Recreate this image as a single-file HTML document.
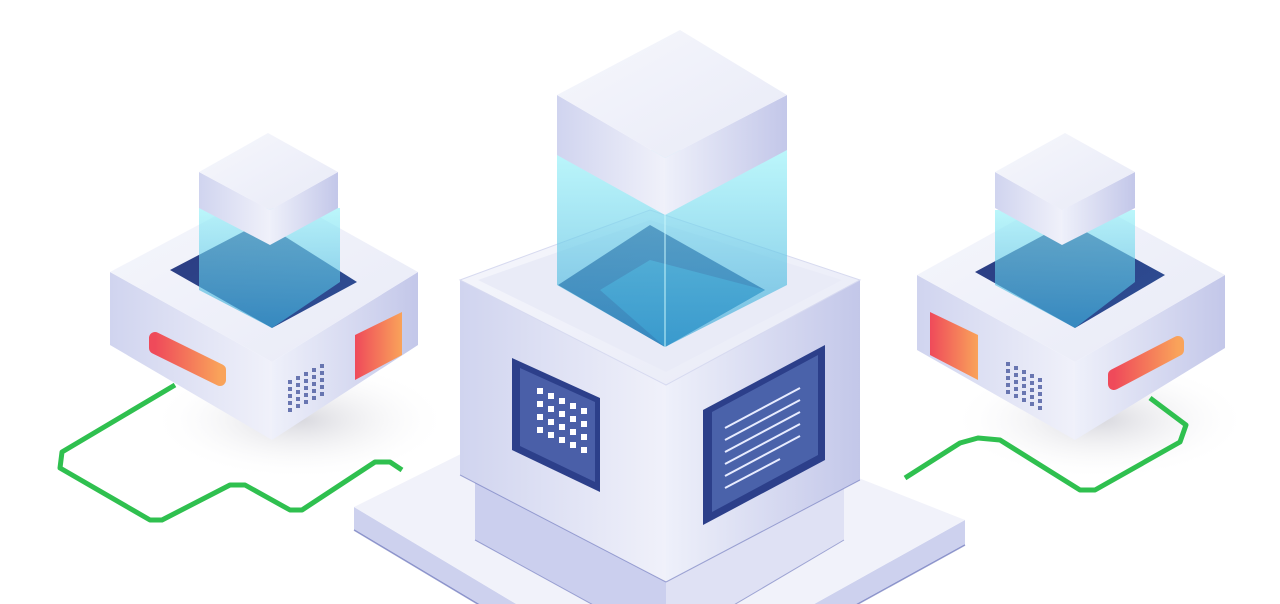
<!DOCTYPE html>
<html><head><meta charset="utf-8"><style>html,body{margin:0;padding:0;background:#fff;width:1280px;height:604px;overflow:hidden}</style></head>
<body>
<svg width="1280" height="604" viewBox="0 0 1280 604" xmlns="http://www.w3.org/2000/svg">
<defs>
<linearGradient id="top" x1="0" y1="0" x2="1" y2="1"><stop offset="0" stop-color="#f6f7fc"/><stop offset="1" stop-color="#e8eaf7"/></linearGradient>
<linearGradient id="lf" x1="0" y1="0" x2="1" y2="0"><stop offset="0" stop-color="#d0d4ef"/><stop offset="1" stop-color="#f0f1fa"/></linearGradient>
<linearGradient id="rf" x1="0" y1="0" x2="1" y2="0"><stop offset="0" stop-color="#eef0fa"/><stop offset="1" stop-color="#c3c7e9"/></linearGradient>
<linearGradient id="hole" x1="0" y1="0" x2="1" y2="1"><stop offset="0" stop-color="#2c3a80"/><stop offset="1" stop-color="#2d4f95"/></linearGradient>
<linearGradient id="glass" x1="0" y1="0" x2="0" y2="1"><stop offset="0" stop-color="#8ef0f8" stop-opacity=".8"/><stop offset="1" stop-color="#3aa6d6" stop-opacity=".9"/></linearGradient>
<linearGradient id="red" x1="0" y1="0" x2="1" y2="0"><stop offset="0" stop-color="#ef4a5a"/><stop offset="1" stop-color="#f9a35a"/></linearGradient>
<radialGradient id="sh"><stop offset="0" stop-color="#d8d8de"/><stop offset="1" stop-color="#fff" stop-opacity="0"/></radialGradient>
</defs>

<ellipse cx="300" cy="420" rx="150" ry="60" fill="url(#sh)"/>
<ellipse cx="1100" cy="420" rx="150" ry="60" fill="url(#sh)"/>

<polyline points="175,385 62,452 60,468 150,520 162,520 230,485 245,485 290,510 302,510 375,462 390,462 402,470" fill="none" stroke="#2fc04f" stroke-width="5" stroke-linejoin="round"/>
<polyline points="905,478 960,443 978,438 1000,440 1080,490 1095,490 1180,442 1186,425 1150,398" fill="none" stroke="#2fc04f" stroke-width="5" stroke-linejoin="round"/>

<!-- base plate -->
<polygon points="354,507 354,530 660,713 965,545 965,520 660,690" fill="#cdd1ee"/>
<line x1="354" y1="530" x2="660" y2="713" stroke="#5560b0" stroke-width="1.5" opacity=".6"/>
<line x1="660" y1="713" x2="965" y2="545" stroke="#5560b0" stroke-width="1.5" opacity=".6"/>
<polygon points="354,507 610,380 965,520 660,690" fill="#f1f2fa"/>

<!-- lower body -->
<polygon points="475,470 666,575 666,645 475,540" fill="#cbcfee"/>
<polygon points="666,575 844,470 844,540 666,645" fill="#dfe1f4"/>
<line x1="475" y1="540" x2="666" y2="645" stroke="#5560b0" stroke-width="1" opacity=".5"/>
<line x1="666" y1="645" x2="844" y2="540" stroke="#5560b0" stroke-width="1" opacity=".5"/>

<!-- central cube -->
<polygon points="460,280 666,385 666,582 460,475" fill="url(#lf)"/>
<polygon points="666,385 860,280 860,480 666,582" fill="url(#rf)"/>
<line x1="460" y1="475" x2="666" y2="582" stroke="#5560b0" stroke-width="1" opacity=".5"/>
<line x1="666" y1="582" x2="860" y2="480" stroke="#5560b0" stroke-width="1" opacity=".5"/>
<polygon points="460,280 650,210 860,280 666,385" fill="url(#top)" stroke="#d7daf0"/>
<polygon points="478,280 650,220 842,280 666,372" fill="#e9ebf7"/>
<polygon points="558,285 650,225 765,290 665,347" fill="url(#hole)"/>
<polygon points="600,290 650,260 765,290 665,347" fill="#3a8cc4" opacity=".8"/>
<polygon points="557,150 787,150 787,285 665,347 557,285" fill="url(#glass)" opacity=".75"/>
<line x1="665" y1="215" x2="665" y2="347" stroke="#c8f6fb" stroke-width="1"/>
<polygon points="557,95 665,158 665,215 557,155" fill="url(#lf)"/>
<polygon points="665,158 787,95 787,150 665,215" fill="url(#rf)"/>
<polygon points="557,95 680,30 787,95 665,158" fill="url(#top)"/>

<!-- panels -->
<polygon points="512,358 600,398 600,492 512,450" fill="#2c3f8a"/>
<polygon points="520,368 595,402 595,482 520,446" fill="#4a5fa8"/>
<g fill="#fff">
<rect x="537" y="388" width="6" height="6"/><rect x="548" y="393" width="6" height="6"/><rect x="559" y="398" width="6" height="6"/><rect x="570" y="403" width="6" height="6"/><rect x="581" y="408" width="6" height="6"/>
<rect x="537" y="401" width="6" height="6"/><rect x="548" y="406" width="6" height="6"/><rect x="559" y="411" width="6" height="6"/><rect x="570" y="416" width="6" height="6"/><rect x="581" y="421" width="6" height="6"/>
<rect x="537" y="414" width="6" height="6"/><rect x="548" y="419" width="6" height="6"/><rect x="559" y="424" width="6" height="6"/><rect x="570" y="429" width="6" height="6"/><rect x="581" y="434" width="6" height="6"/>
<rect x="537" y="427" width="6" height="6"/><rect x="548" y="432" width="6" height="6"/><rect x="559" y="437" width="6" height="6"/><rect x="570" y="442" width="6" height="6"/><rect x="581" y="447" width="6" height="6"/>
</g>
<polygon points="703,410 825,345 825,460 703,525" fill="#2c3f8a"/>
<polygon points="712,412 818,355 818,455 712,512" fill="#4a62aa"/>
<g stroke="#e8ecff" stroke-width="2">
<line x1="725" y1="428" x2="800" y2="388"/><line x1="725" y1="440" x2="800" y2="400"/><line x1="725" y1="452" x2="800" y2="412"/><line x1="725" y1="464" x2="800" y2="424"/><line x1="725" y1="476" x2="800" y2="436"/><line x1="725" y1="488" x2="780" y2="459"/>
</g>

<!-- left box -->
<g>
<polygon points="110,272 272,362 272,440 110,345" fill="url(#lf)"/>
<polygon points="272,362 418,272 418,345 272,440" fill="url(#rf)"/>
<polygon points="110,272 268,188 418,272 272,362" fill="url(#top)"/>
<polygon points="170,270 262,222 357,282 272,328" fill="url(#hole)"/>
<polygon points="199,208 340,208 340,282 272,328 199,290" fill="url(#glass)" opacity=".75"/>
<polygon points="199,172 270,210 270,245 199,208" fill="url(#lf)"/>
<polygon points="270,210 338,172 338,208 270,245" fill="url(#rf)"/>
<polygon points="199,172 268,133 338,172 270,210" fill="url(#top)"/>
<polygon points="155,338 220,370 220,380 155,348" fill="url(#red)" stroke="url(#red)" stroke-width="12" stroke-linejoin="round"/>
<polygon points="355,335 402,312 402,355 355,380" fill="url(#red)"/>
<g stroke="#4a5aa0" stroke-width="4" stroke-dasharray="4 3" opacity=".8">
<line x1="290" y1="380" x2="290" y2="412"/><line x1="298" y1="376" x2="298" y2="408"/><line x1="306" y1="372" x2="306" y2="404"/><line x1="314" y1="368" x2="314" y2="400"/><line x1="322" y1="364" x2="322" y2="396"/>
</g>
</g>

<!-- right box -->
<g>
<polygon points="917,275 1075,362 1075,440 917,350" fill="url(#lf)"/>
<polygon points="1075,362 1225,275 1225,348 1075,440" fill="url(#rf)"/>
<polygon points="917,275 1070,190 1225,275 1075,362" fill="url(#top)"/>
<polygon points="975,272 1068,222 1165,275 1075,328" fill="url(#hole)"/>
<polygon points="995,210 1135,210 1135,282 1075,328 995,285" fill="url(#glass)" opacity=".75"/>
<polygon points="995,172 1062,210 1062,245 995,208" fill="url(#lf)"/>
<polygon points="1062,210 1135,172 1135,208 1062,245" fill="url(#rf)"/>
<polygon points="995,172 1065,133 1135,172 1062,210" fill="url(#top)"/>
<polygon points="930,312 978,335 978,380 930,355" fill="url(#red)"/>
<polygon points="1114,375 1178,342 1178,350 1114,384" fill="url(#red)" stroke="url(#red)" stroke-width="12" stroke-linejoin="round"/>
<g stroke="#4a5aa0" stroke-width="4" stroke-dasharray="4 3" opacity=".8">
<line x1="1008" y1="362" x2="1008" y2="394"/><line x1="1016" y1="366" x2="1016" y2="398"/><line x1="1024" y1="370" x2="1024" y2="402"/><line x1="1032" y1="374" x2="1032" y2="406"/><line x1="1040" y1="378" x2="1040" y2="410"/>
</g>
</g>
</svg>
</body></html>
